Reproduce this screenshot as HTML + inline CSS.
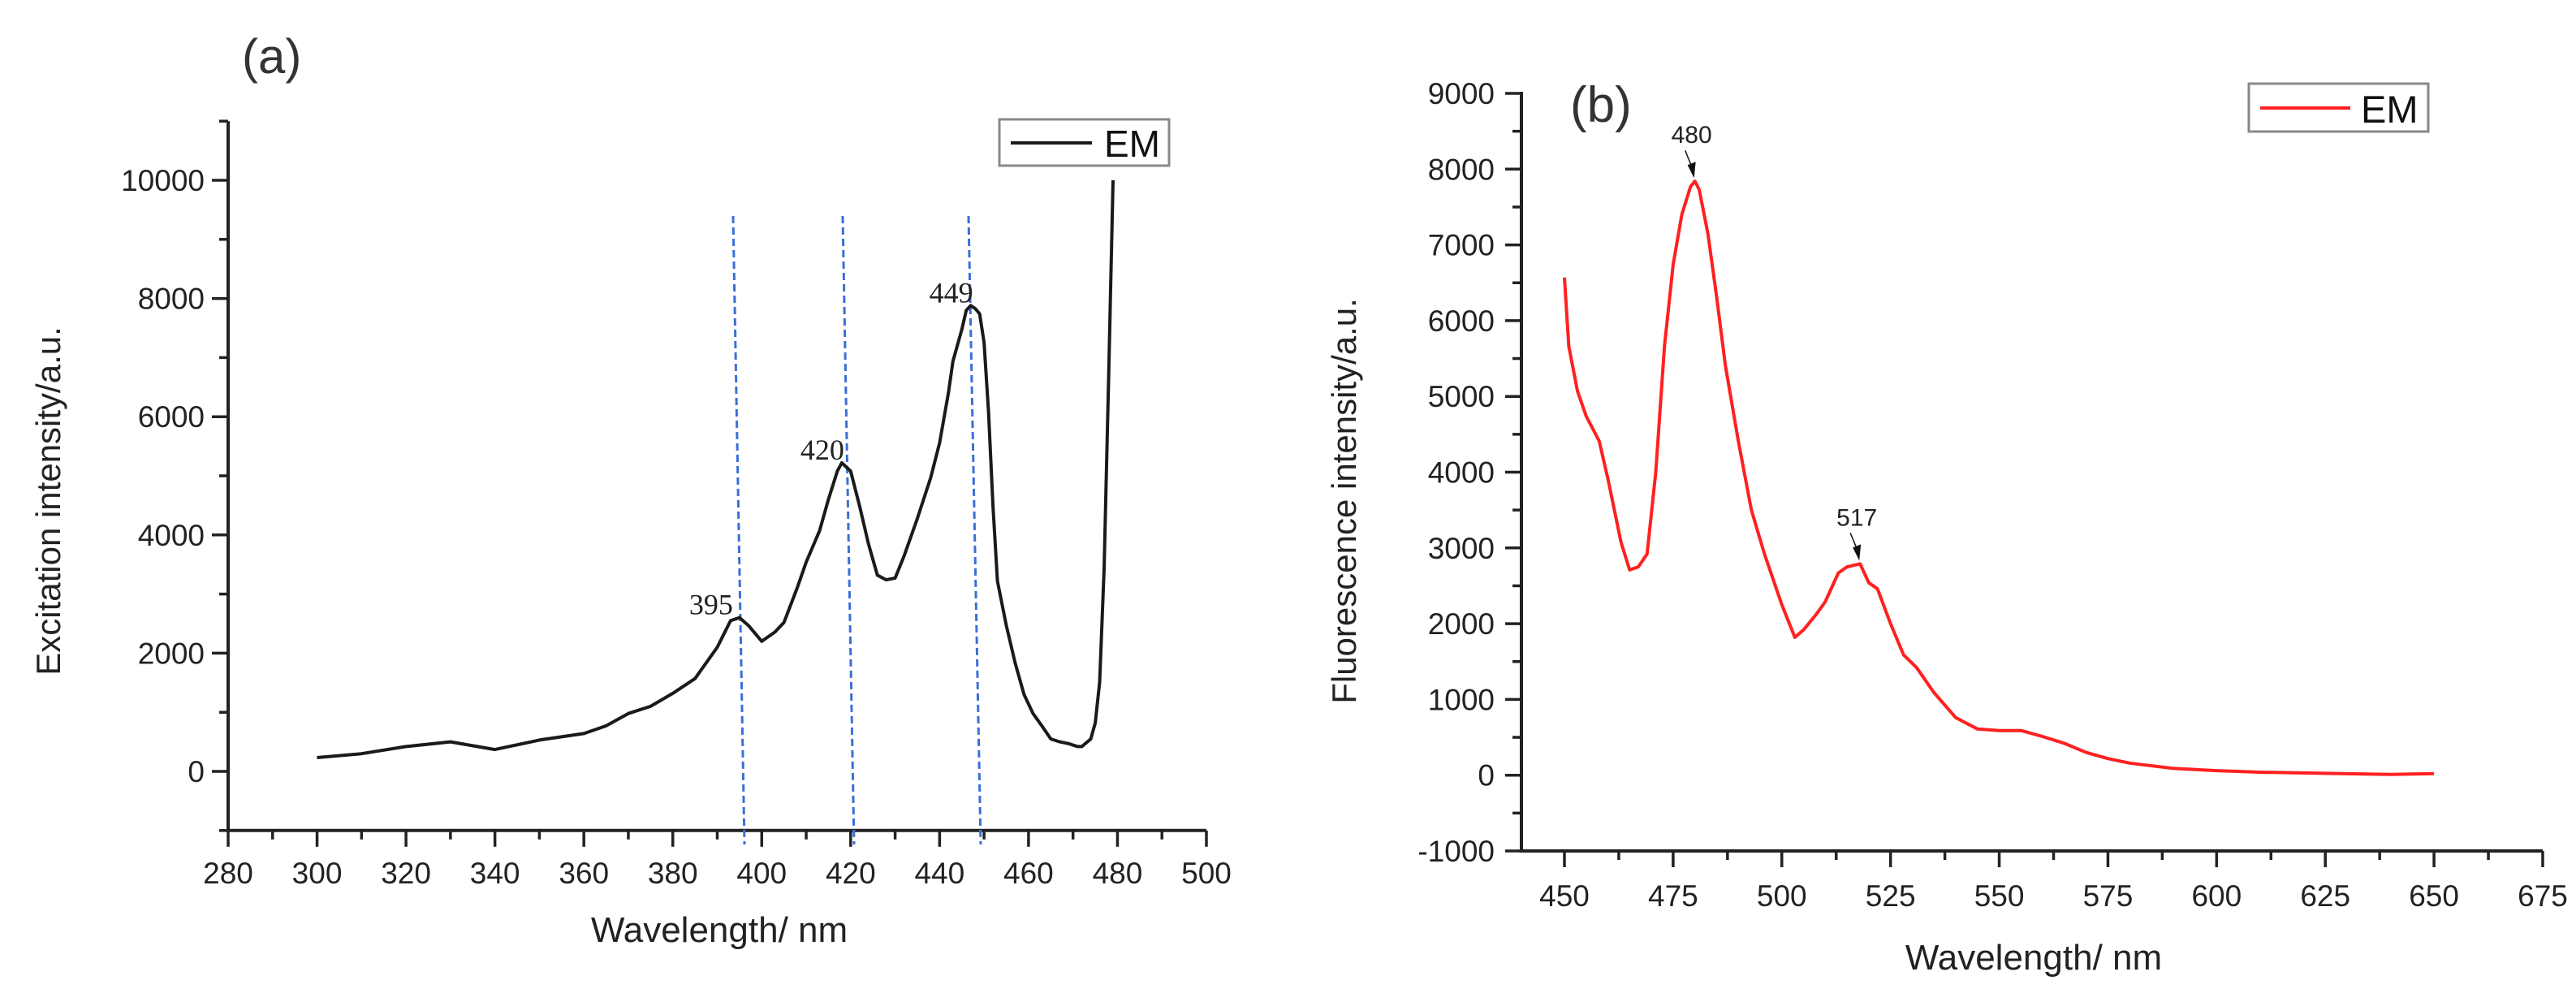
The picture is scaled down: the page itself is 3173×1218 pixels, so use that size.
<!DOCTYPE html>
<html><head><meta charset="utf-8">
<style>
html,body{margin:0;padding:0;background:#fff;}
svg{display:block;font-family:"Liberation Sans",Arial,sans-serif;}
</style></head>
<body>
<svg id="fig" width="3173" height="1218" viewBox="0 0 3173 1218" xmlns="http://www.w3.org/2000/svg">
<g id="chartA"></g>
<g id="chartB"></g>
</svg>
<script>
// ---- chart (a) data ----
const aWavelength = [300,310,320,330,340,350,360,365,370,375,380,385,390,393,395,397,400,403,405,408,410,413,415,417,418,420,422,424,426,428,430,432,435,438,440,442,443,445,446,447,448,449,450,451,452,453,455,457,459,461,463,465,467,469,471,472,474,475,476,477,478,479];
const aIntensity = [234,300,420,500,370,530,640,770,980,1100,1320,1570,2100,2550,2600,2470,2200,2360,2520,3110,3540,4070,4600,5080,5220,5080,4490,3850,3320,3240,3270,3640,4280,4970,5560,6410,6940,7480,7800,7880,7830,7740,7260,6090,4490,3220,2470,1830,1300,980,770,550,500,470,420,420,550,820,1510,3430,6620,10000];
const aXTicks = [280,300,320,340,360,380,400,420,440,460,480,500];
const aYTicks = [0,2000,4000,6000,8000,10000];
const aPeakLabels = ["395","420","449"];
const aPeakX = [395,420,449];
const aPeakY = [2600,5220,7880];
// ---- chart (b) data ----
const bWavelength = [450,451,453,455,458,460,463,465,467,469,471,473,475,477,479,480,481,483,485,487,490,493,496,500,503,505,508,510,513,515,518,520,522,525,528,531,535,540,545,550,555,560,565,570,575,580,590,600,610,625,640,650];
const bIntensity = [6570,5660,5070,4740,4410,3910,3080,2710,2750,2920,4000,5660,6740,7400,7770,7840,7730,7150,6320,5410,4410,3500,2920,2250,1820,1920,2130,2290,2670,2750,2790,2540,2460,2000,1590,1420,1090,760,610,590,590,510,420,300,220,160,90,60,40,25,10,20];
const bXTicks = [450,475,500,525,550,575,600,625,650,675];
const bYTicks = [-1000,0,1000,2000,3000,4000,5000,6000,7000,8000,9000];
const bPeakLabels = ["480","517"];
const bPeakX = [480,518];
const bPeakY = [7840,2790];

const NS="http://www.w3.org/2000/svg";
function mk(parent,tag,attrs,text){const e=document.createElementNS(NS,tag);for(const k in attrs)e.setAttribute(k,attrs[k]);if(text!==undefined)e.textContent=text;parent.appendChild(e);return e;}

// ===== Chart A =====
(function(){
const g=document.getElementById('chartA');
const x0=281,x1=1486,xmin=280,xmax=500;
const y0=950,yPer=72.8;
const X=v=>x0+(v-xmin)/(xmax-xmin)*(x1-x0);
const Y=v=>y0-v/1000*yPer;
const yBot=Y(-1000), yTop=Y(11000);
let e;
e=mk(g,'line',{x1:x0,y1:yTop,x2:x0,y2:yBot+2,stroke:'#222','stroke-width':4});


e=mk(g,'line',{x1:x0-2,y1:yBot,x2:x1,y2:yBot,stroke:'#222','stroke-width':4});


for(let v=xmin;v<=xmax;v+=10){const major=(v-xmin)%20===0;
 e=mk(g,'line',{x1:X(v),y1:yBot,x2:X(v),y2:yBot+(major?20:11),stroke:'#222','stroke-width':3.5});
 
 }
aXTicks.forEach(v=>{e=mk(g,'text',{x:X(v),y:1088,'text-anchor':'middle','font-size':37,fill:'#222'},String(v));
 
 });
for(let v=-1000;v<=11000;v+=1000){const major=v>=0&&v%2000===0;
 e=mk(g,'line',{x1:x0,y1:Y(v),x2:x0-(major?20:11),y2:Y(v),stroke:'#222','stroke-width':3.5});
 
 }
aYTicks.forEach(v=>{e=mk(g,'text',{x:252,y:Y(v)+13,'text-anchor':'end','font-size':37,fill:'#222'},String(v));
 
 });
e=mk(g,'text',{x:886,y:1160,'text-anchor':'middle','font-size':44,fill:'#222'},'Wavelength/ nm');


e=mk(g,'text',{x:0,y:0,'text-anchor':'middle','font-size':42,fill:'#222',transform:'translate(74,617) rotate(-90)'},'Excitation intensity/a.u.');


e=mk(g,'text',{x:298,y:90,'font-size':60,fill:'#333','font-family':'"Liberation Sans","Noto Sans CJK SC",sans-serif'},'(a)');


const guideTop=[395,420,449];
[[903,917],[1038,1052],[1193,1208]].forEach((p,i)=>{
 e=mk(g,'line',{x1:p[0],y1:266,x2:p[1],y2:1040,stroke:'#3a6fd8','stroke-width':3,'stroke-dasharray':'9,5'});
 
 });
let d='';aWavelength.forEach((w,i)=>{d+=(i?'L':'M')+X(w).toFixed(1)+' '+Y(aIntensity[i]).toFixed(1);});
e=mk(g,'path',{d:d,fill:'none',stroke:'#1a1a1a','stroke-width':4,'stroke-linejoin':'round'});


aPeakLabels.forEach((t,i)=>{e=mk(g,'text',{x:X(aPeakX[i])-8,y:Y(aPeakY[i])-4,'text-anchor':'end','font-size':36,'font-family':'"Liberation Serif",serif',fill:'#222'},t);
 
 });
const lg=mk(g,'g',{});


mk(lg,'rect',{x:1231,y:147,width:209,height:57,fill:'#fff',stroke:'#888','stroke-width':3});
mk(lg,'line',{x1:1245,y1:176,x2:1345,y2:176,stroke:'#1a1a1a','stroke-width':4});
e=mk(lg,'text',{x:1360,y:193,'font-size':46,fill:'#111'},'EM');


})();

// ===== Chart B =====
(function(){
const g=document.getElementById('chartB');
const x0=1874;
const xA=1927,xB=3132;
const X=v=>xA+(v-450)/(675-450)*(xB-xA);
const y0=1048-93.3,yPer=93.3;
const Y=v=>y0-v/1000*yPer;
const yBot=Y(-1000),yTop=Y(9000);
const xEnd=X(675);
let e;
e=mk(g,'line',{x1:x0,y1:yTop-2,x2:x0,y2:yBot+2,stroke:'#222','stroke-width':4});


e=mk(g,'line',{x1:x0-2,y1:yBot,x2:xEnd,y2:yBot,stroke:'#222','stroke-width':4});


for(let v=450;v<=675;v+=12.5){const major=(v-450)%25===0;
 e=mk(g,'line',{x1:X(v),y1:yBot,x2:X(v),y2:yBot+(major?20:11),stroke:'#222','stroke-width':3.5});
 
 }
bXTicks.forEach(v=>{e=mk(g,'text',{x:X(v),y:1116,'text-anchor':'middle','font-size':37,fill:'#222'},String(v));
 
 });
for(let v=-1000;v<=9000;v+=500){const major=v%1000===0;
 e=mk(g,'line',{x1:x0,y1:Y(v),x2:x0-(major?20:11),y2:Y(v),stroke:'#222','stroke-width':3.5});
 
 }
bYTicks.forEach(v=>{e=mk(g,'text',{x:1841,y:Y(v)+13,'text-anchor':'end','font-size':37,fill:'#222'},String(v));
 
 });
e=mk(g,'text',{x:2505,y:1194,'text-anchor':'middle','font-size':44,fill:'#222'},'Wavelength/ nm');


e=mk(g,'text',{x:0,y:0,'text-anchor':'middle','font-size':42,fill:'#222',transform:'translate(1670,617) rotate(-90)'},'Fluorescence intensity/a.u.');


e=mk(g,'text',{x:1934,y:150,'font-size':62,fill:'#333','font-family':'"Liberation Sans","Noto Sans CJK SC",sans-serif'},'(b)');


let d='';bWavelength.forEach((w,i)=>{d+=(i?'L':'M')+X(w).toFixed(1)+' '+Y(bIntensity[i]).toFixed(1);});
e=mk(g,'path',{d:d,fill:'none',stroke:'#ff2020','stroke-width':4,'stroke-linejoin':'round'});


bPeakLabels.forEach((t,i)=>{
 const px=X(bPeakX[i]),py=Y(bPeakY[i]);
 e=mk(g,'text',{x:px-4,y:py-47,'text-anchor':'middle','font-size':30,fill:'#222'},t);
 
 
 e=mk(g,'line',{x1:px-12,y1:py-38,x2:px-3,y2:py-16,stroke:'#111','stroke-width':1.5});
 
 
 mk(g,'polygon',{points:`${px-9},${py-20} ${px+1},${py-24} ${px-1},${py-4}`,fill:'#111'});
});
const lg=mk(g,'g',{});


mk(lg,'rect',{x:2770,y:103,width:221,height:59,fill:'#fff',stroke:'#888','stroke-width':3});
mk(lg,'line',{x1:2784,y1:133,x2:2895,y2:133,stroke:'#ff2020','stroke-width':4});
e=mk(lg,'text',{x:2908,y:151,'font-size':47,fill:'#111'},'EM');


})();
</script>
</body></html>
